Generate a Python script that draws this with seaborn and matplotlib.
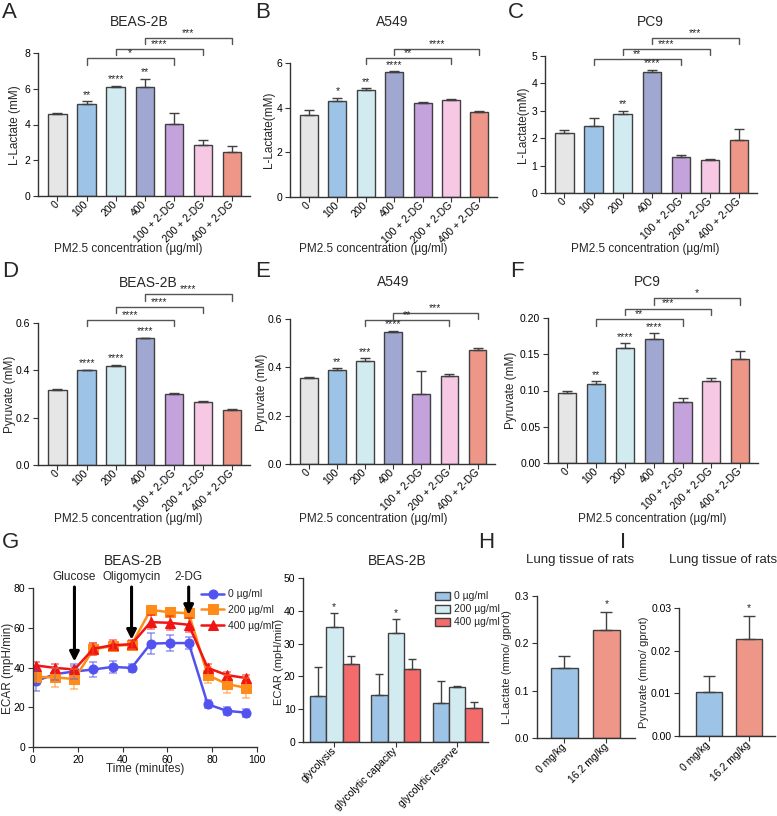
import numpy as np
import pandas as pd
import seaborn as sns
import matplotlib.pyplot as plt
from matplotlib.ticker import FormatStrFormatter

W, H = 777, 816

# ---- data ---------------------------------------------------------------
groups = ['0', '100', '200', '400', '100 + 2-DG', '200 + 2-DG', '400 + 2-DG']
group_colors = ['#e6e6e6', '#9dc3e6', '#d2ebf1', '#a0a8d2', '#c4a2dc', '#f6c8e3', '#ee9688']

lac_beas = [4.6, 5.15, 6.1, 6.1, 4.02, 2.85, 2.46]
lac_beas_sd = [0.07, 0.14, 0.08, 0.45, 0.62, 0.3, 0.32]
lac_beas_stars = ['', '**', '****', '**', '', '', '']
lac_beas_brackets = [(1, 4, '*', 7.7), (2, 5, '****', 8.24), (3, 6, '***', 8.86)]

lac_a549 = [3.68, 4.3, 4.78, 5.58, 4.2, 4.35, 3.8]
lac_a549_sd = [0.2, 0.15, 0.1, 0.04, 0.07, 0.05, 0.06]
lac_a549_stars = ['', '*', '**', '****', '', '', '']
lac_a549_brackets = [(2, 5, '**', 6.21), (3, 6, '****', 6.63)]

lac_pc9 = [2.2, 2.45, 2.9, 4.42, 1.33, 1.2, 1.95]
lac_pc9_sd = [0.1, 0.3, 0.1, 0.08, 0.06, 0.05, 0.38]
lac_pc9_stars = ['', '', '**', '****', '', '', '']
lac_pc9_brackets = [(1, 4, '**', 4.89), (2, 5, '****', 5.26), (3, 6, '***', 5.67)]

pyr_beas = [0.318, 0.4, 0.42, 0.535, 0.3, 0.268, 0.232]
pyr_beas_sd = [0.004, 0.003, 0.004, 0.003, 0.005, 0.004, 0.004]
pyr_beas_stars = ['', '****', '****', '****', '', '', '']
pyr_beas_brackets = [(1, 4, '****', 0.613), (2, 5, '****', 0.669), (3, 6, '****', 0.722)]

pyr_a549 = [0.355, 0.39, 0.425, 0.548, 0.29, 0.365, 0.472]
pyr_a549_sd = [0.005, 0.007, 0.012, 0.004, 0.095, 0.008, 0.008]
pyr_a549_stars = ['', '**', '***', '****', '', '', '']
pyr_a549_brackets = [(2, 5, '**', 0.596), (3, 6, '***', 0.626)]

pyr_pc9 = [0.096, 0.109, 0.159, 0.171, 0.084, 0.113, 0.144]
pyr_pc9_sd = [0.003, 0.004, 0.006, 0.008, 0.006, 0.004, 0.01]
pyr_pc9_stars = ['', '**', '****', '****', '', '', '']
pyr_pc9_brackets = [(1, 4, '**', 0.198), (2, 5, '***', 0.213), (3, 6, '*', 0.227)]

times = [1.5, 10, 18.5, 27, 35.5, 44, 52.5, 61, 69.5, 78, 86.5, 95]
doses = ['0 µg/ml', '200 µg/ml', '400 µg/ml']
line_colors = ['#5252f0', '#ff8c1a', '#f01414']
ecar_0 = [33.3, 36.7, 38.0, 39.0, 40.3, 39.8, 52.0, 52.3, 52.3, 21.5, 18.2, 17.3]
ecar_0_sd = [5.2, 3, 4, 4, 3, 2, 5.4, 4, 3, 2, 2, 2]
ecar_200 = [35.3, 35.0, 34.2, 49.2, 50.8, 51.5, 69.0, 67.8, 67.3, 36.2, 31.7, 29.8]
ecar_200_sd = [2, 5, 5, 3, 2, 2, 2, 1.5, 1.5, 4, 4.5, 5]
ecar_400 = [41.0, 39.8, 39.0, 49.5, 51.2, 51.7, 62.8, 62.5, 61.5, 39.8, 36.2, 34.7]
ecar_400_sd = [2, 2, 2, 3, 2.5, 2, 3.5, 3.5, 3.5, 2, 1.5, 1.5]
injections = ['Glucose', 'Oligomycin', '2-DG']
inj_time = [18.5, 44, 69.5]
inj_tip = [43, 54, 66.5]

measures = ['glycolysis', 'glycolytic capacity', 'glycolytic reserve']
stress_colors = ['#9dc3e6', '#d2ebf1', '#f36b6b']
stress_0 = [14.0, 14.2, 12.0]
stress_0_sd = [8.8, 6.6, 6.6]
stress_200 = [35.0, 33.3, 16.7]
stress_200_sd = [4.2, 4.1, 0.5]
stress_400 = [23.8, 22.2, 10.5]
stress_400_sd = [2.3, 3.0, 1.8]
stress_stars_200 = ['*', '*', '']

rats = ['0 mg/kg', '16.2 mg/kg']
rat_colors = ['#9dc3e6', '#ee9688']
rat_lac = [0.148, 0.229]
rat_lac_sd = [0.026, 0.038]
rat_pyr = [0.0102, 0.0228]
rat_pyr_sd = [0.0038, 0.0053]
rat_stars = ['', '*']

# ---- style --------------------------------------------------------------
sns.set_style('ticks')
plt.rcParams['font.family'] = ['Liberation Sans', 'DejaVu Sans']
plt.rcParams['axes.edgecolor'] = '#333333'
plt.rcParams['axes.linewidth'] = 1
plt.rcParams['xtick.color'] = '#333333'
plt.rcParams['ytick.color'] = '#333333'
plt.rcParams['xtick.labelcolor'] = 'black'
plt.rcParams['ytick.labelcolor'] = 'black'
plt.rcParams['xtick.major.size'] = 3.5
plt.rcParams['ytick.major.size'] = 3.5
plt.rcParams['xtick.major.pad'] = 2
plt.rcParams['ytick.major.pad'] = 2
plt.rcParams['xtick.labelsize'] = 7.5
plt.rcParams['ytick.labelsize'] = 7.5

EDGE = '#404040'
fig = plt.figure(figsize=(7.77, 8.16), dpi=100)


def box(l, t, r, b):
    return [l / W, 1 - b / H, (r - l) / W, (b - t) / H]


def ftext(x, y, s, **kw):
    fig.text(x / W, 1 - y / H, s, **kw)


def tidy(ax, ylim, yticks, fmt):
    ax.set_ylim(*ylim)
    ax.set_yticks(yticks)
    ax.yaxis.set_major_formatter(FormatStrFormatter(fmt))
    ax.set_xlabel('')
    ax.set_ylabel('')
    sns.despine(ax=ax)


def rot_labels(ax, labels):
    ax.set_xticks(range(len(labels)))
    ax.set_xticklabels(labels, rotation=45, ha='right', va='center', rotation_mode='anchor')
    ax.tick_params(axis='x', pad=1.5)


def bar_panel(rect, means, sds, stars, brackets, ylim, yticks, fmt):
    ax = fig.add_axes(box(*rect))
    sns.barplot(x=groups, y=means, hue=groups, palette=group_colors, legend=False,
                saturation=1, width=0.63, edgecolor=EDGE, linewidth=1, ax=ax)
    ax.errorbar(range(len(groups)), means, yerr=[np.zeros(len(means)), sds], fmt='none',
                ecolor=EDGE, elinewidth=1, capsize=3.5, capthick=1)
    for i, s in enumerate(stars):
        if s:
            ax.annotate(s, (i, means[i] + sds[i]), xytext=(0, 1), textcoords='offset points',
                        ha='center', va='bottom', fontsize=7.5)
    tick = ylim[1] * 0.045
    for i, j, lab, h in brackets:
        ax.plot([i, i, j, j], [h - tick, h, h, h - tick], color='#555555', lw=1, clip_on=False)
        ax.text((i + j) / 2, h, lab, ha='center', va='bottom', fontsize=7.5)
    ax.set_xlim(-0.67, 6.62)
    rot_labels(ax, groups)
    tidy(ax, ylim, yticks, fmt)
    return ax


# ---- rows A-F -----------------------------------------------------------
bar_panel((38, 53, 250, 196), lac_beas, lac_beas_sd, lac_beas_stars, lac_beas_brackets,
          (0, 8), [0, 2, 4, 6, 8], '%g')
bar_panel((290, 63, 497, 197), lac_a549, lac_a549_sd, lac_a549_stars, lac_a549_brackets,
          (0, 6), [0, 2, 4, 6], '%g')
bar_panel((545, 56, 757, 193), lac_pc9, lac_pc9_sd, lac_pc9_stars, lac_pc9_brackets,
          (0, 5), [0, 1, 2, 3, 4, 5], '%g')
bar_panel((38, 323, 250, 465), pyr_beas, pyr_beas_sd, pyr_beas_stars, pyr_beas_brackets,
          (0, 0.6), [0, 0.2, 0.4, 0.6], '%.1f')
bar_panel((290, 319, 495, 464), pyr_a549, pyr_a549_sd, pyr_a549_stars, pyr_a549_brackets,
          (0, 0.6), [0, 0.2, 0.4, 0.6], '%.1f')
bar_panel((548, 318, 758, 463), pyr_pc9, pyr_pc9_sd, pyr_pc9_stars, pyr_pc9_brackets,
          (0, 0.2), [0, 0.05, 0.1, 0.15, 0.2], '%.2f')

for x, y, s in [(139, 22, 'BEAS-2B'), (392, 22, 'A549'), (650, 22, 'PC9'),
                (148, 283, 'BEAS-2B'), (393, 282, 'A549'), (647, 282, 'PC9')]:
    ftext(x, y, s, ha='center', va='center', fontsize=10)
for x, y, s in [(15, 125, 'L-Lactate (mM)'), (269, 130, 'L-Lactate(mM)'), (523, 125, 'L-Lactate(mM)'),
                (10, 394, 'Pyruvate (mM)'), (262, 392, 'Pyruvate (mM)'), (511, 390, 'Pyruvate (mM)')]:
    ftext(x, y, s, ha='center', va='center', rotation=90, fontsize=8.5)
for x, y in [(128, 249), (373, 249), (645, 249), (128, 519), (373, 519), (652, 519)]:
    ftext(x, y, 'PM2.5 concentration (µg/ml)', ha='center', va='center', fontsize=8.5)

# ---- G left: ECAR time course ------------------------------------------
ax = fig.add_axes(box(33, 588, 257, 747))
df = pd.DataFrame({'time': times * 3,
                   'ecar': ecar_0 + ecar_200 + ecar_400,
                   'dose': [d for d in doses for _ in times]})
sns.lineplot(data=df, x='time', y='ecar', hue='dose', style='dose', palette=line_colors,
             markers=['o', 's', '^'], dashes=False, markersize=6.5, linewidth=1.8,
             markeredgecolor=None, ax=ax)
for vals, sds, c in zip([ecar_0, ecar_200, ecar_400], [ecar_0_sd, ecar_200_sd, ecar_400_sd], line_colors):
    ax.errorbar(times, vals, yerr=sds, fmt='none', ecolor=c, alpha=0.55, elinewidth=1.2,
                capsize=3, capthick=1.2)
for name, t, tip in zip(injections, inj_time, inj_tip):
    ax.annotate('', xy=(t, tip), xytext=(t, 80.5),
                arrowprops=dict(arrowstyle='-|>', lw=2.2, color='black', mutation_scale=14,
                                shrinkA=0, shrinkB=0), annotation_clip=False)
    ax.text(t, 85.5, name, ha='center', va='center', fontsize=8.5, clip_on=False)
ax.set_xlim(0, 100)
ax.set_xticks([0, 20, 40, 60, 80, 100])
tidy(ax, (0, 80), [0, 20, 40, 60, 80], '%g')
handles, labels = ax.get_legend_handles_labels()
ax.legend(handles, labels, loc='upper left', bbox_to_anchor=(196 / W, 1 - 584 / H),
          bbox_transform=fig.transFigure, frameon=False, fontsize=7.5, handlelength=2.2,
          labelspacing=0.55, borderpad=0, handletextpad=0.35)
ftext(133, 561, 'BEAS-2B', ha='center', va='center', fontsize=10)
ftext(8, 668, 'ECAR (mpH/min)', ha='center', va='center', rotation=90, fontsize=8.5)
ftext(145, 769, 'Time (minutes)', ha='center', va='center', fontsize=8.5)

# ---- G right: glycolytic stress ----------------------------------------
ax = fig.add_axes(box(303, 578, 488, 742))
sdf = pd.DataFrame({'measure': measures * 3,
                    'ecar': stress_0 + stress_200 + stress_400,
                    'dose': [d for d in doses for _ in measures]})
sns.barplot(data=sdf, x='measure', y='ecar', hue='dose', palette=stress_colors, saturation=1,
            errorbar=None, width=0.8, edgecolor=EDGE, linewidth=1, ax=ax)
for cont, sds in zip(ax.containers, [stress_0_sd, stress_200_sd, stress_400_sd]):
    xs = [p.get_x() + p.get_width() / 2 for p in cont]
    hs = [p.get_height() for p in cont]
    ax.errorbar(xs, hs, yerr=[np.zeros(len(hs)), sds], fmt='none', ecolor=EDGE,
                elinewidth=1, capsize=3, capthick=1)
for p, sd, s in zip(ax.containers[1], stress_200_sd, stress_stars_200):
    if s:
        ax.annotate(s, (p.get_x() + p.get_width() / 2, p.get_height() + sd), xytext=(0, 1),
                    textcoords='offset points', ha='center', va='bottom', fontsize=7.5)
ax.set_xlim(-0.51, 2.5)
rot_labels(ax, measures)
tidy(ax, (0, 50), [0, 10, 20, 30, 40, 50], '%g')
ax.legend(loc='upper left', bbox_to_anchor=(430 / W, 1 - 586 / H), bbox_transform=fig.transFigure,
          frameon=False, fontsize=7.5, handlelength=1.4, handleheight=0.8, labelspacing=0.3,
          borderpad=0, handletextpad=0.4)
ftext(397, 561, 'BEAS-2B', ha='center', va='center', fontsize=10)
ftext(279, 662, 'ECAR (mpH/min)', ha='center', va='center', rotation=90, fontsize=8)

# ---- H, I: rat lung tissue ---------------------------------------------
for rect, vals, sds, ylim, ticks, fmt, ylab, lab_x, xl in [
        ((537, 596, 635, 738), rat_lac, rat_lac_sd, (0, 0.3), [0, 0.1, 0.2, 0.3], '%.1f',
         'L-Lactate (mmo/ gprot)', 507, (-0.65, 1.68)),
        ((679, 608, 775, 736), rat_pyr, rat_pyr_sd, (0, 0.03), [0, 0.01, 0.02, 0.03], '%.2f',
         'Pyruvate (mmo/ gprot)', 644, (-0.75, 1.65))]:
    ax = fig.add_axes(box(*rect))
    sns.barplot(x=rats, y=vals, hue=rats, palette=rat_colors, legend=False, saturation=1,
                width=0.64, edgecolor=EDGE, linewidth=1, ax=ax)
    ax.errorbar(range(2), vals, yerr=[np.zeros(2), sds], fmt='none', ecolor=EDGE,
                elinewidth=1, capsize=4, capthick=1)
    for i, s in enumerate(rat_stars):
        if s:
            ax.annotate(s, (i, vals[i] + sds[i]), xytext=(0, 2), textcoords='offset points',
                        ha='center', va='bottom', fontsize=7.5)
    ax.set_xlim(*xl)
    rot_labels(ax, rats)
    tidy(ax, ylim, ticks, fmt)
    ftext(lab_x, (rect[1] + rect[3]) / 2, ylab, ha='center', va='center', rotation=90, fontsize=8)
ftext(580, 560, 'Lung tissue of rats', ha='center', va='center', fontsize=9.5)
ftext(723, 560, 'Lung tissue of rats', ha='center', va='center', fontsize=9.5)

# ---- panel letters ------------------------------------------------------
for x, y, s in [(2, 12, 'A'), (255, 12, 'B'), (508, 12, 'C'), (2, 272, 'D'), (255, 272, 'E'),
                (510, 272, 'F'), (2, 542, 'G'), (478, 542, 'H'), (620, 542, 'I')]:
    ftext(x, y, s, ha='left', va='center', fontsize=16)

fig.savefig('out.png', dpi=100)
